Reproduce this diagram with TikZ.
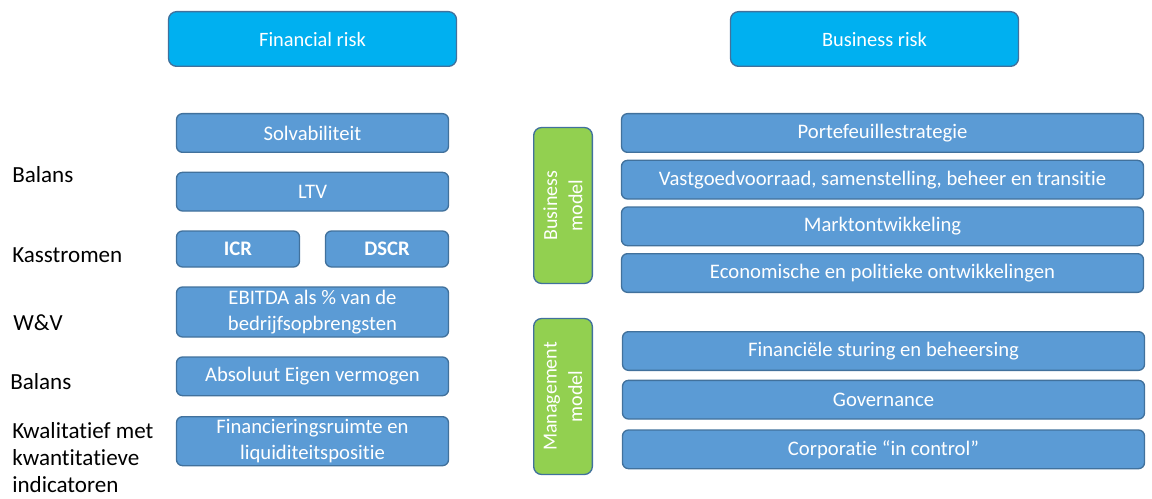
\documentclass[tikz,border=0pt]{standalone}
\usepackage{fontspec}
\setmainfont{Carlito}[RawFeature=-liga]
\usepackage{tikz}
\usetikzlibrary{positioning}
\definecolor{headblue}{HTML}{00B0F0}
\definecolor{boxblue}{HTML}{5B9BD5}
\definecolor{edgeblue}{HTML}{41719C}
\definecolor{modelgreen}{HTML}{92D050}
\tikzstyle{riskhead} = [
    rectangle, rounded corners=6pt, draw=edgeblue, line width=1pt, fill=headblue,
    text=white, minimum width=216pt, minimum height=41pt, font=\fontsize{15.3}{18}\selectfont]
\tikzstyle{metric} = [
    rectangle, rounded corners=4.5pt, draw=edgeblue, line width=1pt, fill=boxblue,
    text=white, align=center, minimum width=204pt, minimum height=29pt, inner sep=1pt,
    font=\fontsize{15.5}{19}\selectfont]
\tikzstyle{factor} = [metric, minimum width=391.5pt]
\tikzstyle{modelbar} = [
    rectangle, rounded corners=6pt, draw=edgeblue, line width=1pt, fill=modelgreen,
    text=white, align=center, rotate=90, minimum width=117pt, minimum height=44pt,
    inner sep=1pt, font=\fontsize{15}{19}\selectfont]
\tikzstyle{rowlabel} = [anchor=west, inner sep=0pt, align=left, font=\fontsize{17.3}{20.5}\selectfont]

\begin{document}
\begin{tikzpicture}[x=0.75pt, y=-0.75pt]
\useasboundingbox (0,0) rectangle (1152,499);

% headers
\node (financial-risk) [riskhead] at (312.5,39) {Financial risk};
\node (business-risk) [riskhead] at (874.5,39) {Business risk};

% financial risk column
\node (solvabiliteit) [metric] at (312.5,133) {Solvabiliteit};
\node (ltv) [metric, below=14pt of solvabiliteit] {LTV};
\node (icr) [metric, below right=14pt and 0pt of ltv.south west, anchor=north west,
    minimum width=92.25pt, minimum height=27pt, font=\fontsize{15.5}{19}\selectfont\bfseries] {ICR};
\node (dscr) [metric, below left=14pt and 0pt of ltv.south east, anchor=north east,
    minimum width=92.25pt, minimum height=27pt, font=\fontsize{15.5}{19}\selectfont\bfseries] {DSCR};
\node (ebitda) [metric, below right=14pt and 0pt of icr.south west, anchor=north west,
    minimum height=37.5pt] {
    EBITDA als \% van de \\
    bedrijfsopbrengsten
};
\node (eigen-vermogen) [metric, below=14pt of ebitda] {Absoluut Eigen vermogen};
\node (financiering) [metric, below=14.75pt of eigen-vermogen, minimum height=36.75pt] {
    Financieringsruimte en \\
    liquiditeitspositie
};

% row labels
\node (lbl-balans) [rowlabel] at (12,175) {Balans};
\node (lbl-kasstromen) [rowlabel] at (12,255) {Kasstromen};
\node (lbl-wv) [rowlabel] at (13,323) {W\&V};
\node (lbl-balans2) [rowlabel] at (10,382) {Balans};
\node (lbl-kwalitatief) [rowlabel, anchor=north west] at (12,422) {
    Kwalitatief met \\
    kwantitatieve \\
    indicatoren
};

% business risk column
\node (business-model) [modelbar] at (563,205.5) {Business \\ model};
\node (portefeuille) [factor] at (882.5,133) {Portefeuillestrategie};
\node (vastgoed) [factor, below=5pt of portefeuille] {Vastgoedvoorraad, samenstelling, beheer en transitie};
\node (markt) [factor, below=5pt of vastgoed] {Marktontwikkeling};
\node (economie) [factor, below=5pt of markt] {Economische en politieke ontwikkelingen};

\node (management-model) [modelbar] at (563,396.5) {Management \\ model};
\node (sturing) [factor] at (883.5,351) {Financiële sturing en beheersing};
\node (governance) [factor, below=6.5pt of sturing] {Governance};
\node (in-control) [factor, below=7.25pt of governance] {Corporatie “in control”};
\end{tikzpicture}
\end{document}
